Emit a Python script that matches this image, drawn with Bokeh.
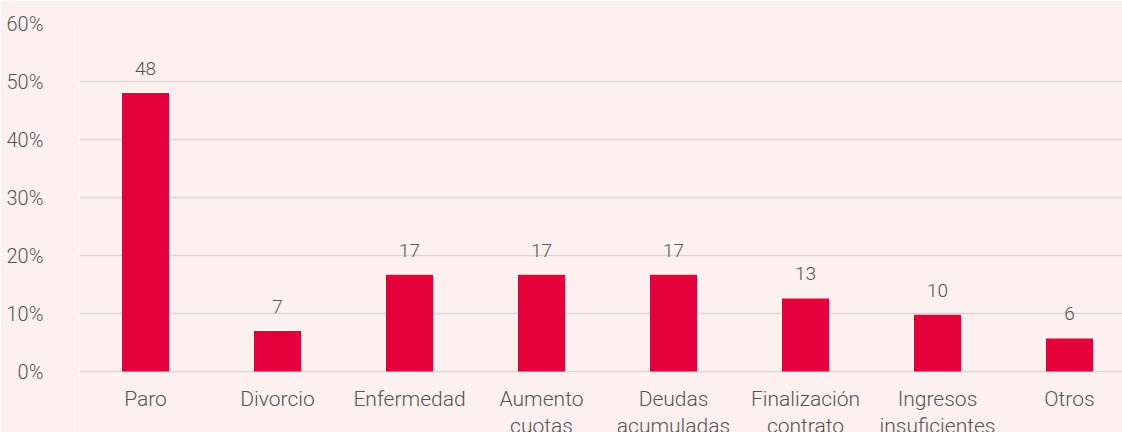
from bokeh.plotting import figure
from bokeh.models import FixedTicker, ColumnDataSource, LabelSet
from bokeh.core.properties import value
from bokeh.embed import file_html
from bokeh.resources import INLINE

categories = ["Paro", "Divorcio", "Enfermedad", "Aumento\ncuotas", "Deudas\nacumuladas",
              "Finalización\ncontrato", "Ingresos\ninsuficientes", "Otros"]
values = [48.0, 7.0, 16.7, 16.7, 16.7, 12.6, 9.8, 5.7]
labels = [str(int(v + 0.5)) for v in values]
y_ticks = [0, 10, 20, 30, 40, 50, 60]

BG = "#FCF0F0"
BAR = "#E4003A"
TXT = "#555555"
FONT = "Roboto Light, Roboto"

xs = [i + 0.5 for i in range(len(categories))]
W, H = 1122, 432
left, top_b = 79, 23
plot_h = 348          # pixel height of the 0..60 band
step_px = 132.0
x_end = (W - left) / step_px
px_per_unit = plot_h / 60.0
y_start = -(H - top_b - plot_h) / px_per_unit   # room below 0 for category names

p = figure(width=W, height=H, output_backend="svg", toolbar_location=None,
           x_range=(0, x_end), y_range=(y_start, 60),
           min_border_left=left, min_border_right=0, min_border_top=top_b, min_border_bottom=0,
           background_fill_color=BG, border_fill_color=BG, outline_line_color=None)

src = ColumnDataSource(dict(x=xs, top=values, lab=labels, cat=categories,
                            zero=[0] * len(xs)))
p.vbar(x="x", top="top", bottom=0, width=47 / step_px, source=src,
       fill_color=BAR, line_color=None)

p.add_layout(LabelSet(x="x", y="top", text="lab", source=src, text_align="center",
                      text_baseline="bottom", y_offset=18, text_font_size="19px",
                      text_color=TXT, text_font=value(FONT)))

p.text(x="x", y="zero", text="cat", source=src, text_align="center",
       text_baseline="top", y_offset=15, text_font_size="21px",
       text_line_height=1.15, text_color=TXT, text_font=value(FONT))

p.xaxis.visible = False
p.xgrid.visible = False
p.ygrid.grid_line_color = "#DCD8D8"
p.ygrid.grid_line_width = 1.5
p.yaxis.ticker = FixedTicker(ticks=y_ticks)
p.yaxis.major_label_overrides = {t: f"{t}%" for t in y_ticks}
p.yaxis.axis_line_color = None
p.yaxis.major_tick_line_color = None
p.yaxis.minor_tick_line_color = None
p.yaxis.major_label_text_font = FONT
p.yaxis.major_label_text_color = TXT
p.yaxis.major_label_text_font_size = "20px"
p.yaxis.major_label_standoff = 30

open("out.html", "w").write(file_html(p, INLINE))
